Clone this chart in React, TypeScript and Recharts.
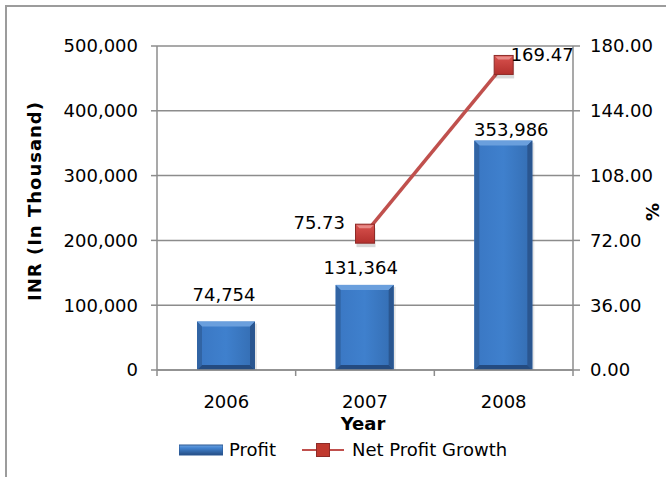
import React from 'react';
import { ComposedChart, Bar, Line, XAxis, YAxis, CartesianGrid, LabelList } from 'recharts';

const years = ['2006', '2007', '2008'];
const profit = [74754, 131364, 353986];
const growth: (number | null)[] = [null, 75.73, 169.47];
const leftTicks = [0, 100000, 200000, 300000, 400000, 500000];
const rightTicks = [0, 36, 72, 108, 144, 180];

const data = years.map((y, i) => ({ year: y, profit: profit[i], growth: growth[i] }));

const FONT = "'DejaVu Sans', Verdana, sans-serif";
const W = 666;
const H = 477;
const M = { top: 46, right: 33, left: 97, bottom: 67 };
const YW = 60;
const XH = 40;
const PLOT_W = W - M.left - M.right - 2 * YW;
const BAND = PLOT_W / years.length;
const AXIS = '#8c8c8c';

const barLabelLift = [27, 17, 11];
const barLabelShift = [-2, -4, 8];
const lineLabelPos = [
  { dx: 0, dy: 0, anchor: 'middle' },
  { dx: -20, dy: -4.5, anchor: 'end' },
  { dx: 7, dy: -4, anchor: 'start' },
];

const fmt = (v: number) => v.toLocaleString('en-US');

function BevelBar(props: any) {
  const { x, y, width, height } = props;
  if (height == null || height <= 0) return null;
  const b = 5;
  const x2 = x + width;
  const y2 = y + height;
  return (
    <g>
      <rect x={x + 2} y={y + 2} width={width} height={height - 2} fill="rgba(0,0,0,0.10)" />
      <rect x={x} y={y} width={width} height={height} fill="url(#barBody)" />
      <polygon points={`${x},${y} ${x2},${y} ${x2 - b},${y + b} ${x + b},${y + b}`} fill="#6A9FDD" />
      <polygon points={`${x},${y} ${x + b},${y + b} ${x + b},${y2 - b} ${x},${y2}`} fill="#3164A4" />
      <polygon points={`${x2},${y} ${x2},${y2} ${x2 - b},${y2 - b} ${x2 - b},${y + b}`} fill="#2A5690" />
      <polygon points={`${x},${y2} ${x + b},${y2 - b} ${x2 - b},${y2 - b} ${x2},${y2}`} fill="#244B80" />
    </g>
  );
}

function SquareDot(props: any) {
  const { cx, cy, payload, index } = props;
  if (cx == null || cy == null || payload == null || payload.growth == null) return <g key={`d${index}`} />;
  const s = 19;
  return (
    <g key={`d${index}`}>
      <rect x={cx - s / 2 + 1} y={cy - s / 2 + 4} width={s} height={s} fill="rgba(0,0,0,0.15)" />
      <rect x={cx - s / 2} y={cy - s / 2} width={s} height={s} fill="url(#dotFill)" stroke="#8E2B28" strokeWidth={1} />
      <polygon
        points={`${cx - s / 2 + 1},${cy - s / 2 + 1} ${cx + s / 2 - 1},${cy - s / 2 + 1} ${cx + s / 2 - 4},${cy - s / 2 + 4} ${cx - s / 2 + 4},${cy - s / 2 + 4}`}
        fill="#E88A87"
      />
    </g>
  );
}

function BarLabel(props: any) {
  const { x, y, width, value, index } = props;
  if (value == null) return null;
  const cx = x + width / 2 + barLabelShift[index];
  const cy = y - barLabelLift[index];
  return (
    <text x={cx} y={cy + 6.5} textAnchor="middle" fontSize={18} fontFamily={FONT} fill="#000">
      {fmt(value)}
    </text>
  );
}

function LineLabel(props: any) {
  const { x, y, value, index } = props;
  if (value == null) return null;
  const p = lineLabelPos[index];
  return (
    <text x={x + p.dx} y={y + p.dy} textAnchor={p.anchor as any} fontSize={18} fontFamily={FONT} fill="#000">
      {Number(value).toFixed(2)}
    </text>
  );
}

function XTick(props: any) {
  const { x, y, payload, index } = props;
  return (
    <g>
      <line x1={x + BAND / 2} y1={y} x2={x + BAND / 2} y2={y + 6} stroke={AXIS} strokeWidth={1.5} />
      {index === 0 && <line x1={x - BAND / 2} y1={y} x2={x - BAND / 2} y2={y + 6} stroke={AXIS} strokeWidth={1.5} />}
      <text x={x} y={y + 37.5} textAnchor="middle" fontSize={18} fontFamily={FONT} fill="#000">
        {payload.value}
      </text>
    </g>
  );
}

export default function App() {
  return (
    <div style={{ position: 'absolute', left: 0, top: 0, width: W, height: H, overflow: 'hidden', background: '#fff', fontFamily: FONT }}>
      <div
        style={{
          position: 'absolute',
          left: 5,
          top: 5,
          width: 800,
          height: 600,
          borderLeft: '2px solid #9c9c9c',
          borderTop: '2px solid #9c9c9c',
        }}
      />
      <div style={{ position: 'absolute', left: 0, top: 0 }}>
        <ComposedChart width={W} height={H} data={data} margin={M}>
          <defs>
            <linearGradient id="barBody" x1="0" y1="0" x2="1" y2="0">
              <stop offset="0" stopColor="#3A77C3" />
              <stop offset="0.5" stopColor="#3F80CD" />
              <stop offset="1" stopColor="#346DB2" />
            </linearGradient>
            <linearGradient id="dotFill" x1="0" y1="0" x2="0" y2="1">
              <stop offset="0" stopColor="#D9524E" />
              <stop offset="1" stopColor="#B3302D" />
            </linearGradient>
          </defs>
          <CartesianGrid yAxisId="left" vertical={false} stroke={AXIS} strokeWidth={1.5} />
          <XAxis
            dataKey="year"
            height={XH}
            axisLine={{ stroke: AXIS, strokeWidth: 1.5 }}
            tickLine={false}
            tickSize={0}
            tickMargin={0}
            tick={<XTick />}
            interval={0}
            label={(p: any) => (
              <text x={363} y={429.5} textAnchor="middle" fontSize={18} fontWeight="bold" fontFamily={FONT} fill="#000">
                Year
              </text>
            )}
          />
          <YAxis
            yAxisId="left"
            width={YW}
            domain={[0, 500000]}
            ticks={leftTicks}
            interval={0}
            tickFormatter={fmt}
            axisLine={{ stroke: AXIS, strokeWidth: 1.5 }}
            tickLine={{ stroke: AXIS, strokeWidth: 1.5 }}
            tickSize={6}
            tickMargin={13}
            tick={{ fontSize: 18, fontFamily: FONT, fill: '#000' }}
            label={(p: any) => (
              <text
                x={34}
                y={201}
                transform="rotate(-90 34 201)"
                textAnchor="middle"
                dominantBaseline="central"
                fontSize={18}
                fontWeight="bold"
                letterSpacing={1}
                fontFamily={FONT}
                fill="#000"
              >
                INR (In Thousand)
              </text>
            )}
          />
          <YAxis
            yAxisId="right"
            orientation="right"
            width={YW}
            domain={[0, 180]}
            ticks={rightTicks}
            interval={0}
            tickFormatter={(v: number) => v.toFixed(2)}
            axisLine={{ stroke: AXIS, strokeWidth: 1.5 }}
            tickLine={{ stroke: AXIS, strokeWidth: 1.5 }}
            tickSize={7}
            tickMargin={10}
            tick={{ fontSize: 18, fontFamily: FONT, fill: '#000' }}
            label={(p: any) => (
              <text
                x={652}
                y={212}
                transform="rotate(-90 652 212)"
                textAnchor="middle"
                dominantBaseline="central"
                fontSize={18}
                fontWeight="bold"
                fontFamily={FONT}
                fill="#000"
              >
                %
              </text>
            )}
          />
          <Bar yAxisId="left" dataKey="profit" barSize={58} shape={<BevelBar />} isAnimationActive={false}>
            <LabelList dataKey="profit" content={<BarLabel />} />
          </Bar>
          <Line
            yAxisId="right"
            dataKey="growth"
            type="linear"
            stroke="#C0504D"
            strokeWidth={3.5}
            dot={(p: any) => <SquareDot {...p} />}
            activeDot={false}
            isAnimationActive={false}
          >
            <LabelList dataKey="growth" content={<LineLabel />} />
          </Line>
        </ComposedChart>
      </div>
      <div style={{ position: 'absolute', left: 179, top: 442 }}>
        <svg width={44} height={14}>
          <defs>
            <linearGradient id="legBar" x1="0" y1="0" x2="0" y2="1">
              <stop offset="0" stopColor="#6FA3DF" />
              <stop offset="0.3" stopColor="#4283D0" />
              <stop offset="1" stopColor="#264E84" />
            </linearGradient>
          </defs>
          <rect x={0} y={2} width={44} height={10} fill="url(#legBar)" stroke="#2B5894" strokeWidth={1} />
        </svg>
      </div>
      <div style={{ position: 'absolute', left: 229, top: 439, fontSize: 18, lineHeight: '22px', color: '#000', whiteSpace: 'nowrap' }}>
        Profit
      </div>
      <div style={{ position: 'absolute', left: 302, top: 442 }}>
        <svg width={44} height={16}>
          <line x1={0} y1={8} x2={42} y2={8} stroke="#C0504D" strokeWidth={2} />
          <rect x={14.5} y={1.5} width={13} height={13} fill="#C0392F" stroke="#8E2B28" strokeWidth={1} />
        </svg>
      </div>
      <div style={{ position: 'absolute', left: 352, top: 439, fontSize: 18, lineHeight: '22px', color: '#000', whiteSpace: 'nowrap' }}>
        Net Profit Growth
      </div>
    </div>
  );
}
